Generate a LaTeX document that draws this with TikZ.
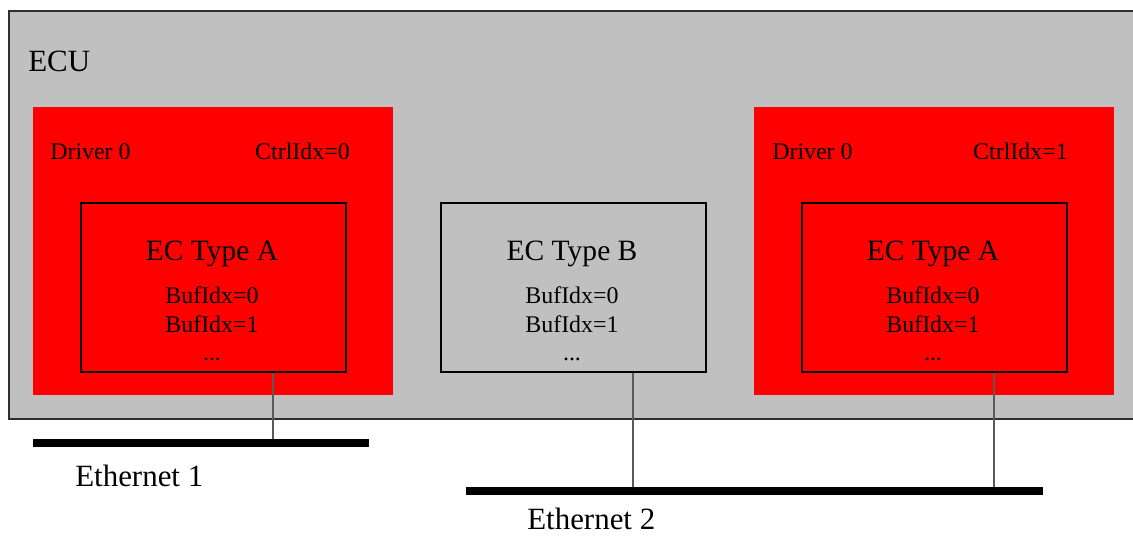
\documentclass[tikz,border=0pt]{standalone}
\usepackage{fontspec}
\setmainfont{Liberation Serif}
\definecolor{ecugray}{RGB}{192,192,192}
\definecolor{ecuedge}{RGB}{48,48,48}
\definecolor{drvred}{RGB}{255,0,0}
\definecolor{tapgray}{RGB}{90,90,90}
\begin{document}
\begin{tikzpicture}[x=0.025cm,y=-0.025cm]
	    \tikzset{
	      ecubox/.style={draw=ecuedge,fill=ecugray,line width=1.2pt,inner sep=0,anchor=north west,minimum width=28.5cm,minimum height=10.2cm},
	      drvbox/.style={fill=drvred,inner sep=0,anchor=north west,minimum width=9cm,minimum height=7.2cm},
	      ecbox/.style={draw=black,line width=1.1pt,inner sep=0,anchor=north west,minimum width=6.625cm,minimum height=4.225cm},
	      big/.style={inner sep=0,font=\fontsize{22}{26}\selectfont},
	      title/.style={inner sep=0,anchor=base,font=\fontsize{21}{25}\selectfont},
	      small/.style={inner sep=0,font=\fontsize{17}{20}\selectfont},
	      bus/.style={line width=5pt},
	      tap/.style={draw=tapgray,line width=1.8pt}
	    }
	    \useasboundingbox (0,0) rectangle (1133,535);
	    % ECU and the two drivers
	    \node [ecubox] (ecu) at (8,10) {};
	    \node [big,anchor=base west] (ecuLbl) at (28,71) {ECU};
	    \node [drvbox] (drvA) at (33,107) {};
	    \node [drvbox] (drvB) at (754,107) {};
	    \node [small,anchor=base west] (drvALbl) at (50,159) {Driver 0};
	    \node [small,anchor=base east] (ctrlA) at (350,159) {CtrlIdx=0};
	    \node [small,anchor=base west] (drvBLbl) at (772,159) {Driver 0};
	    \node [small,anchor=base east] (ctrlB) at (1068,159) {CtrlIdx=1};
	    % controllers
	    \node [ecbox,fill=drvred] (ecA) at (80,202) {};
	    \node [ecbox] (ecB) at (440,202) {};
	    \node [ecbox,fill=drvred] (ecC) at (801,202) {};
	    \node [title] (typeA) at (212,260) {EC Type A};
	    \node [small,anchor=base] (bufA0) at (212,303) {BufIdx=0};
	    \node [small,anchor=base] (bufA1) at (212,332) {BufIdx=1};
	    \node [small,anchor=base] (dotsA) at (212,360) {...};
	    \node [title] (typeB) at (572,260) {EC Type B};
	    \node [small,anchor=base] (bufB0) at (572,303) {BufIdx=0};
	    \node [small,anchor=base] (bufB1) at (572,332) {BufIdx=1};
	    \node [small,anchor=base] (dotsB) at (572,360) {...};
	    \node [title] (typeC) at (933,260) {EC Type A};
	    \node [small,anchor=base] (bufC0) at (933,303) {BufIdx=0};
	    \node [small,anchor=base] (bufC1) at (933,332) {BufIdx=1};
	    \node [small,anchor=base] (dotsC) at (933,360) {...};
	    % buses
	    \coordinate (eth1W) at (33,443);
	    \coordinate (eth1E) at (369,443);
	    \coordinate (eth2W) at (466,491);
	    \coordinate (eth2E) at (1043,491);
	    \coordinate (tapA) at (273,443);
	    \coordinate (tapB) at (633,491);
	    \coordinate (tapC) at (994,491);
	    \draw [tap] (ecA.south -| tapA) -- (tapA);
	    \draw [tap] (ecB.south -| tapB) -- (tapB);
	    \draw [tap] (ecC.south -| tapC) -- (tapC);
	    \draw [bus] (eth1W) -- (eth1E);
	    \draw [bus] (eth2W) -- (eth2E);
	    \node [big,anchor=base west] (eth1Lbl) at (75,486) {Ethernet 1};
	    \node [big,anchor=base west] (eth2Lbl) at (527,529) {Ethernet 2};
	\end{tikzpicture}
\end{document}
